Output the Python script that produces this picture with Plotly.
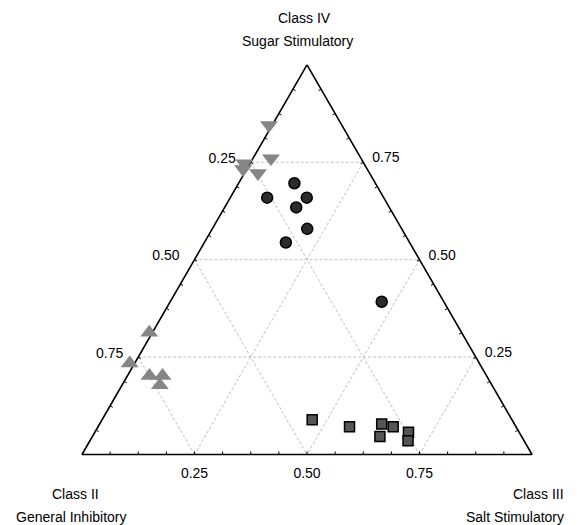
import math
import plotly.graph_objects as go

# ---- data (fractions: a = Class IV, b = Class II, c = Class III) ----
down_a = [0.845, 0.760, 0.747, 0.732, 0.722]
down_b = [0.162, 0.200, 0.266, 0.276, 0.248]
down_c = [-0.007, 0.040, -0.013, -0.008, 0.030]

circ_a = [0.696, 0.659, 0.659, 0.634, 0.579, 0.544, 0.392]
circ_b = [0.180, 0.259, 0.171, 0.207, 0.210, 0.275, 0.138]
circ_c = [0.124, 0.082, 0.170, 0.159, 0.211, 0.181, 0.470]

sq_a = [0.089, 0.071, 0.078, 0.071, 0.046, 0.057, 0.035]
sq_b = [0.444, 0.370, 0.295, 0.273, 0.315, 0.246, 0.258]
sq_c = [0.467, 0.559, 0.627, 0.656, 0.639, 0.697, 0.707]

up_a = [0.313, 0.234, 0.202, 0.202, 0.178]
up_b = [0.694, 0.777, 0.749, 0.720, 0.738]
up_c = [-0.007, -0.011, 0.049, 0.078, 0.084]

grid_levels = [0.25, 0.50, 0.75]
tick_labels = ["0.25", "0.50", "0.75"]
minor_steps = 16

title_lines = [
    ("Class IV", 304, 18, "center"),
    ("Sugar Stimulatory", 297, 41, "center"),
    ("Class II", 75, 494, "center"),
    ("General Inhibitory", 71, 517, "center"),
    ("Class III", 566, 494, "right"),
    ("Salt Stimulatory", 566, 517, "right"),
]

FONT = "Liberation Sans, Arial, sans-serif"
W, H = 579, 525

# real triangle geometry (pixels) and an invisible outer ternary frame
SIDE = 450.0
HT = SIDE * math.sqrt(3) / 2
CX, YBASE = 307.0, 454.5
EPS = 0.065                     # margin of outer frame, in ternary units
S = 1 + 3 * EPS
inset = EPS * HT
out_side = SIDE * S
dom_x = [(CX - out_side / 2) / W, (CX + out_side / 2) / W]
dom_y = [1 - (YBASE + inset) / H, 1 - (YBASE + inset - out_side * math.sqrt(3) / 2) / H]


def P(vals):
    return [None if v is None else v + EPS for v in vals]


def shift(a, b, c, dx, dy):
    da = -dy / HT
    dc = (dx - da * SIDE / 2) / SIDE
    return a + da, b - da - dc, c + dc


fig = go.Figure()

# dashed grid lines
for v in grid_levels:
    for a, b, c in [([v, v], [1 - v, 0], [0, 1 - v]),
                    ([1 - v, 0], [v, v], [0, 1 - v]),
                    ([1 - v, 0], [0, 1 - v], [v, v])]:
        fig.add_trace(go.Scatterternary(
            a=P(a), b=P(b), c=P(c), mode="lines",
            line=dict(color="#c0c0c0", width=1, dash="3px,2px"),
            hoverinfo="skip", showlegend=False))

# triangle edges
fig.add_trace(go.Scatterternary(
    a=P([1, 0, 0, 1]), b=P([0, 1, 0, 0]), c=P([0, 0, 1, 0]), mode="lines",
    line=dict(color="black", width=1.6), hoverinfo="skip", showlegend=False))

# inside tick marks
d = 3.0 / HT
ta, tb, tc = [], [], []
for k in range(1, minor_steps):
    t = k / minor_steps
    for (a0, b0, c0), (da, db, dc) in [((1 - t, t, 0), (-d / 2, -d / 2, d)),
                                         ((0, 1 - t, t), (d, -d / 2, -d / 2)),
                                         ((t, 0, 1 - t), (-d / 2, d, -d / 2))]:
        ta += [a0, a0 + da, None]
        tb += [b0, b0 + db, None]
        tc += [c0, c0 + dc, None]
fig.add_trace(go.Scatterternary(
    a=P(ta), b=P(tb), c=P(tc), mode="lines",
    line=dict(color="black", width=1), hoverinfo="skip", showlegend=False))

# tick labels
lab = {"left": ([], [], [], "middle left"),
       "bottom": ([], [], [], "middle center"),
       "right": ([], [], [], "middle right")}
for v in grid_levels:
    for key, pt, off in [("left", (1 - v, v, 0), (-15, -3)),
                         ("bottom", (0, 1 - v, v), (0, 20)),
                         ("right", (v, 0, 1 - v), (9, -3.5))]:
        a, b, c = shift(*pt, *off)
        lab[key][0].append(a)
        lab[key][1].append(b)
        lab[key][2].append(c)
for key, (a, b, c, pos) in lab.items():
    fig.add_trace(go.Scatterternary(
        a=P(a), b=P(b), c=P(c), mode="text", text=tick_labels, textposition=pos,
        textfont=dict(family=FONT, size=14, color="black"), cliponaxis=False,
        hoverinfo="skip", showlegend=False))

# data markers
fig.add_trace(go.Scatterternary(
    a=P(down_a), b=P(down_b), c=P(down_c), mode="markers", cliponaxis=False,
    marker=dict(symbol="triangle-down", size=15.5, color="#858585", line=dict(width=0)),
    showlegend=False))
fig.add_trace(go.Scatterternary(
    a=P(circ_a), b=P(circ_b), c=P(circ_c), mode="markers", cliponaxis=False,
    marker=dict(symbol="circle", size=11, color="#2b2b2b", line=dict(width=1.5, color="black")),
    showlegend=False))
fig.add_trace(go.Scatterternary(
    a=P(sq_a), b=P(sq_b), c=P(sq_c), mode="markers", cliponaxis=False,
    marker=dict(symbol="square", size=10, color="#555555", line=dict(width=1.5, color="black")),
    showlegend=False))
fig.add_trace(go.Scatterternary(
    a=P(up_a), b=P(up_b), c=P(up_c), mode="markers", cliponaxis=False,
    marker=dict(symbol="triangle-up", size=15.5, color="#858585", line=dict(width=0)),
    showlegend=False))

hidden_axis = dict(showline=False, showticklabels=False, ticks="", showgrid=False,
                   title=dict(text=""), min=0)

fig.update_layout(
    width=W, height=H,
    margin=dict(l=0, r=0, t=0, b=0),
    paper_bgcolor="white",
    font=dict(family=FONT, size=14, color="black"),
    ternary=dict(sum=S, bgcolor="rgba(0,0,0,0)",
                 domain=dict(x=dom_x, y=dom_y),
                 aaxis=hidden_axis, baxis=hidden_axis, caxis=hidden_axis),
    showlegend=False,
)

for text, px, py, anchor in title_lines:
    fig.add_annotation(text=text, x=px / W, y=1 - py / H, xref="paper", yref="paper",
                       xanchor=anchor, yanchor="middle", showarrow=False,
                       font=dict(family=FONT, size=14, color="black"))

fig.write_html("out.html", config={"displayModeBar": False},
               post_script="document.body.style.margin='0';document.body.style.overflow='hidden';")
